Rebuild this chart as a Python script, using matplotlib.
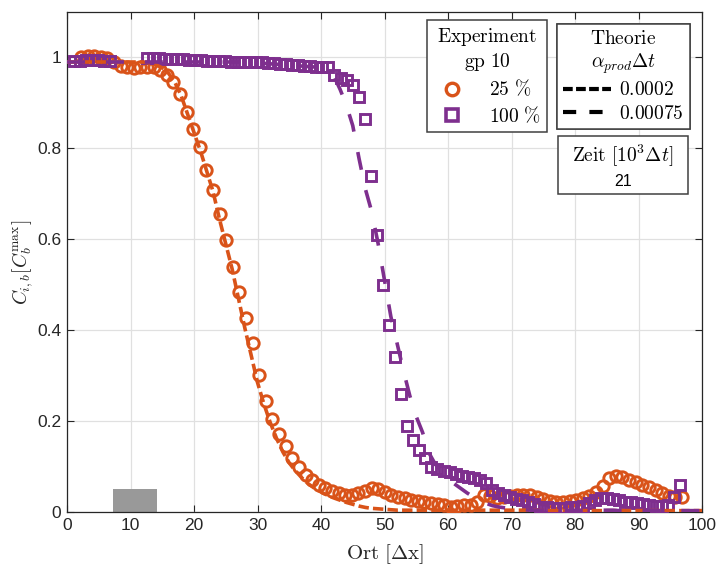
import numpy as np
import matplotlib
matplotlib.use("Agg")
import matplotlib.pyplot as plt
from matplotlib.lines import Line2D
from matplotlib.patches import Rectangle

plt.rcParams['font.family'] = ['Liberation Sans', 'DejaVu Sans']
plt.rcParams['mathtext.fontset'] = 'cm'
plt.rcParams['lines.scale_dashes'] = False

# ---- measured profiles: 25 % series (circles) ----
x_25 = 2.2 + 1.04 * np.arange(92)
c_25 = [1.002, 1.003, 1.003, 1.002, 0.998, 0.990, 0.982, 0.978, 0.976, 0.978,
        0.980, 0.978, 0.972, 0.962, 0.945, 0.920, 0.880, 0.843, 0.803, 0.752,
        0.708, 0.655, 0.598, 0.539, 0.484, 0.426, 0.372, 0.301, 0.244, 0.204,
        0.172, 0.145, 0.118, 0.098, 0.082, 0.070, 0.060, 0.052, 0.046, 0.042,
        0.038, 0.038, 0.042, 0.047, 0.052, 0.051, 0.044, 0.038, 0.034, 0.030,
        0.027, 0.025, 0.023, 0.020, 0.017, 0.015, 0.012, 0.013, 0.015, 0.016,
        0.022, 0.038, 0.036, 0.030, 0.032, 0.035, 0.037, 0.038, 0.037, 0.033,
        0.028, 0.025, 0.023, 0.023, 0.025, 0.027, 0.031, 0.036, 0.043, 0.058,
        0.075, 0.080, 0.077, 0.071, 0.065, 0.060, 0.054, 0.048, 0.041, 0.036,
        0.034, 0.034]

# ---- measured profiles: 100 % series (squares), gap over the source zone ----
x_100 = np.linspace(1.1, 96.5, 101)
c_100 = [0.993, 0.993, 0.994, 0.994, 0.994, 0.993, 0.993,
         np.nan, np.nan, np.nan, np.nan, np.nan,
         0.998, 0.998, 0.998, 0.997, 0.997, 0.996, 0.996, 0.995, 0.994, 0.994,
         0.993, 0.993, 0.992, 0.992, 0.991, 0.991, 0.990, 0.990, 0.990, 0.989,
         0.988, 0.987, 0.986, 0.985, 0.984, 0.983, 0.982, 0.981, 0.980, 0.979,
         0.978, 0.962, 0.955, 0.950, 0.940, 0.912, 0.865, 0.740, 0.610, 0.500,
         0.411, 0.340, 0.260, 0.190, 0.158, 0.136, 0.118, 0.100, 0.094, 0.091,
         0.087, 0.084, 0.080, 0.077, 0.074, 0.070, 0.063, 0.048, 0.041, 0.037,
         0.034, 0.029, 0.026, 0.021, 0.017, 0.012, 0.010, 0.008, 0.008, 0.009,
         0.010, 0.012, 0.014, 0.020, 0.026, 0.030, 0.030, 0.028, 0.026, 0.023,
         0.021, 0.019, 0.017, 0.015, 0.014, 0.013, 0.015, 0.034, 0.059]

# ---- model curves ----
x_theo = np.arange(0, 101)
theo_0002 = ([0.99] * 13 +
             [0.988, 0.984, 0.977, 0.965, 0.945, 0.915, 0.875, 0.835, 0.795, 0.750,
              0.705, 0.645, 0.590, 0.535, 0.470, 0.405, 0.345, 0.285, 0.238, 0.197,
              0.162, 0.132, 0.108, 0.090, 0.075, 0.062, 0.052, 0.044, 0.037, 0.031,
              0.026, 0.021, 0.017, 0.013, 0.010, 0.008, 0.007, 0.006, 0.005] +
             [0.004] * 23 + [0.003] * 26)
theo_00075 = ([0.99] * 30 + [0.988, 0.987, 0.986, 0.985, 0.984, 0.983, 0.982,
                             0.981, 0.980, 0.979, 0.978] +
              [0.972, 0.960, 0.930, 0.895, 0.850, 0.777, 0.710, 0.660, 0.590, 0.510,
               0.430, 0.370, 0.310, 0.255, 0.210, 0.175, 0.130, 0.105, 0.090, 0.075,
               0.062, 0.052, 0.042, 0.033, 0.025, 0.019, 0.014, 0.011, 0.009, 0.007,
               0.006, 0.005] +
              [0.004] * 14 + [0.003] * 14)

# source zone marker
source_x0, source_x1, source_h = 7.2, 14.2, 0.05

xticks = np.arange(0, 101, 10)
yticks = [0, 0.2, 0.4, 0.6, 0.8, 1.0]
ytick_labels = ['0', '0.2', '0.4', '0.6', '0.8', '1']

orange = '#D95319'
purple = '#7E2F8E'
axcol = '#262626'

fig = plt.figure(figsize=(7.19, 5.68), dpi=100)
ax = fig.add_axes([67 / 719, 56 / 568, 635 / 719, 500 / 568])

ax.bar([(source_x0 + source_x1) / 2], [source_h], width=source_x1 - source_x0,
       color='#999999', zorder=2)

ax.plot(x_25, c_25, 'o', ms=8.2, mfc='none', mec=orange, mew=2.1, zorder=3)
ax.plot(x_100, c_100, 's', ms=6.8, mfc='none', mec=purple, mew=2.1, zorder=4)
ax.plot(x_theo, theo_0002, color=orange, lw=2.6, dashes=(7.5, 3.0), zorder=5)
ax.plot(x_theo, theo_00075, color=purple, lw=2.6, dashes=(13, 15), zorder=6)

ax.set_xlim(0, 100)
ax.set_ylim(0, 1.1)
ax.set_xticks(xticks)
ax.set_yticks(yticks)
ax.set_yticklabels(ytick_labels)
ax.grid(True, color='#e0e0e0', lw=0.9, zorder=0)
ax.set_axisbelow(True)
ax.tick_params(direction='in', length=5, width=0.8, top=True, right=True,
               labelsize=12.5, colors=axcol, pad=4)
for s in ax.spines.values():
    s.set_color(axcol)
    s.set_linewidth(0.9)

ax.set_xlabel(r'$\mathrm{Ort}\ [\Delta \mathrm{x}]$', fontsize=15, color=axcol)
ax.set_ylabel(r'$C_{i,b}[C_b^{\mathrm{max}}]$', fontsize=14, color=axcol)
ax.xaxis.set_label_coords(0.5, -0.06)
ax.yaxis.set_label_coords(-0.05, 0.5)

# legend: measurements
h_exp = [Line2D([], [], ls='none', marker='o', ms=9, mfc='none', mec=orange, mew=2.4),
         Line2D([], [], ls='none', marker='s', ms=8, mfc='none', mec=purple, mew=2.6)]
leg1 = ax.legend(h_exp, [r'$25\ \%$', r'$100\ \%$'],
                 title=r'$\mathrm{Experiment}$' + '\n' + r'$\mathrm{gp\ 10}$',
                 loc='upper left', bbox_to_anchor=(427 / 719, 1 - 20 / 568),
                 bbox_transform=fig.transFigure, borderaxespad=0, fancybox=False,
                 framealpha=1, edgecolor='#404040', fontsize=14, title_fontsize=14,
                 handlelength=2.0, handletextpad=0.9, borderpad=0.3, labelspacing=0.3)
leg1.get_frame().set_linewidth(1.1)
leg1.get_title().set_multialignment('center')
ax.add_artist(leg1)

# legend: model curves
h_theo = [Line2D([], [], color='black', lw=3, dashes=(7, 2.4)),
          Line2D([], [], color='black', lw=3, dashes=(9.5, 9.5))]
leg2 = ax.legend(h_theo, [r'$0.0002$', r'$0.00075$'],
                 title=r'$\mathrm{Theorie}$' + '\n' + r'$\alpha_{prod}\Delta t$',
                 loc='upper left', bbox_to_anchor=(557 / 719, 1 - 24 / 568),
                 bbox_transform=fig.transFigure, borderaxespad=0, fancybox=False,
                 framealpha=1, edgecolor='#404040', fontsize=14, title_fontsize=14,
                 handlelength=2.5, handletextpad=0.4, borderpad=0.3, labelspacing=0.3)
leg2.get_frame().set_linewidth(1.1)
leg2.get_title().set_multialignment('center')
ax.add_artist(leg2)

# time box
fig.patches.append(Rectangle((558 / 719, 1 - 194 / 568), 130 / 719, 58 / 568,
                             transform=fig.transFigure, fill=True, facecolor='white',
                             edgecolor='#404040', lw=1.1, zorder=10))
fig.text(623 / 719, 1 - 156 / 568, r'$\mathrm{Zeit}\ [10^3\Delta t]$', ha='center',
         va='center', fontsize=14, zorder=11)
fig.text(623 / 719, 1 - 181 / 568, '21', ha='center', va='center', fontsize=11.5,
         zorder=11)

fig.savefig('out.png', dpi=100)
